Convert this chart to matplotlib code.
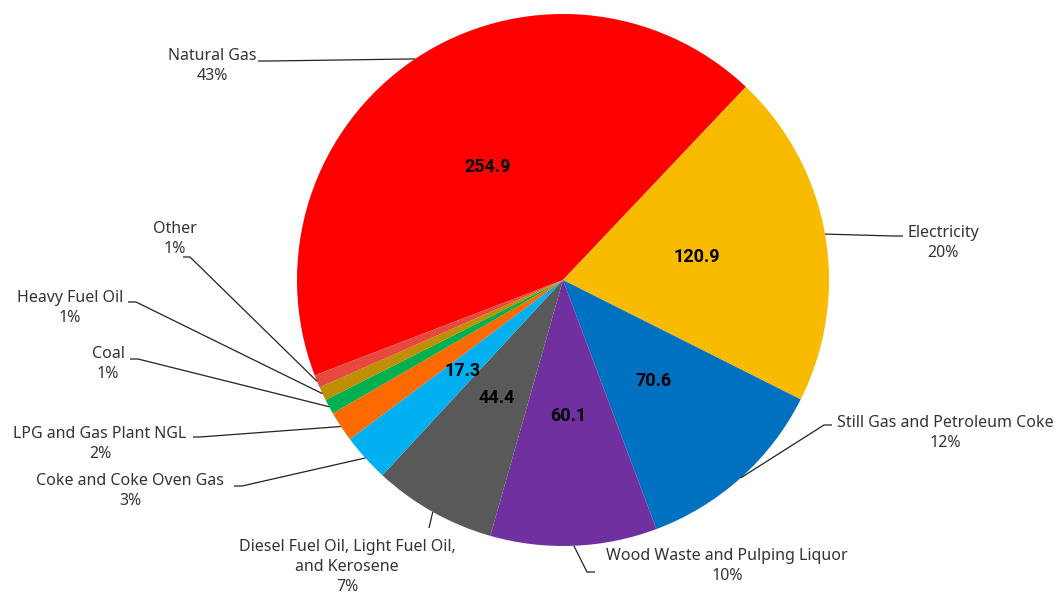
import numpy as np
import matplotlib
matplotlib.use('Agg')
import matplotlib.pyplot as plt

plt.rcParams['font.family'] = ['Noto Sans', 'DejaVu Sans']

# energy use by fuel (PJ)
categories = ['Natural Gas', 'Electricity', 'Still Gas and Petroleum Coke',
              'Wood Waste and Pulping Liquor',
              'Diesel Fuel Oil, Light Fuel Oil,\nand Kerosene',
              'Coke and Coke Oven Gas', 'LPG and Gas Plant NGL', 'Coal',
              'Heavy Fuel Oil', 'Other']
values = [254.9, 120.9, 70.6, 60.1, 44.4, 17.3, 11.0, 5.4, 5.0, 4.6]
pct_labels = ['43%', '20%', '12%', '10%', '7%', '3%', '2%', '1%', '1%', '1%']
show_value = [True, True, True, True, True, True, False, False, False, False]
colors = ['#FF0000', '#F9BB00', '#0070C0', '#7030A0', '#595959',
          '#00B0F0', '#FF6A00', '#00B050', '#BF8F00', '#E8493F']

# layout in pixels of the 1062x599 canvas: label centre, line tail, elbow
CX, CY, R = 563, 280, 266
label_pos = [(212, 66), (943, 243), (945, 433), (727, 566), (347, 567),
             (130, 491), (100, 444), (108, 364), (70, 308), (175, 239)]
tails = [(258, 61), (903, 236), (832, 425), (595, 572), (429, 528),
         (234, 486), (193, 437), (130, 359), (128, 302), (183, 257)]
elbows = [(270, 61), (893, 236), (824, 425), (587, 572), (429, 528),
          (242, 486), (200, 437), (138, 359), (136, 302), (190, 257)]


def px(p):
    return (p[0] - CX) / R, (CY - p[1]) / R


fig = plt.figure(figsize=(10.62, 5.99), dpi=100)
ax = fig.add_axes([0, 0, 1, 1])
wedges, _ = ax.pie(values, colors=colors, startangle=201, counterclock=False,
                   radius=1, center=(0, 0), wedgeprops=dict(linewidth=0))
ax.set_aspect('auto')
ax.set_xlim(-CX / R, (1062 - CX) / R)
ax.set_ylim((CY - 599) / R, CY / R)
ax.axis('off')

for i, w in enumerate(wedges):
    mid = np.deg2rad((w.theta1 + w.theta2) / 2)
    if show_value[i]:
        ax.text(0.51 * np.cos(mid), 0.51 * np.sin(mid), '{:.1f}'.format(values[i]),
                ha='center', va='center', fontsize=13, fontweight='bold',
                color='black', family=['Roboto', 'DejaVu Sans'])
    edge = (np.cos(mid), np.sin(mid))
    ex, ey = px(elbows[i])
    tx, ty = px(tails[i])
    ax.plot([edge[0], ex, tx], [edge[1], ey, ty], color='#222222', lw=0.9,
            solid_capstyle='butt')
    lx, ly = px(label_pos[i])
    ax.text(lx, ly, categories[i] + '\n' + pct_labels[i], ha='center', va='center',
            fontsize=11.5, color='#333333', linespacing=1.3)

fig.savefig('out.png', dpi=100)
